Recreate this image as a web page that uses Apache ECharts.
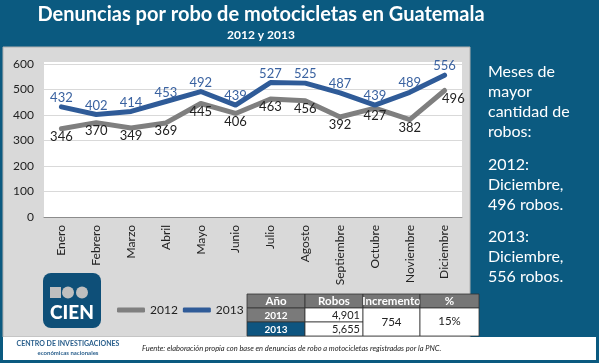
<!DOCTYPE html>
<html><head><meta charset="utf-8">
<script src="https://cdn.jsdelivr.net/npm/echarts@6/dist/echarts.min.js"></script>
<style>html,body{margin:0;padding:0;background:#0b5a80}#c{width:599px;height:363px}</style>
</head><body><div id="c"></div>
<script>
var months = ['Enero','Febrero','Marzo','Abril','Mayo','Junio','Julio','Agosto','Septiembre','Octubre','Noviembre','Diciembre'];
var values2012 = [346,370,349,369,445,406,463,456,392,427,382,496];
var values2013 = [432,402,414,453,492,439,527,525,487,439,489,556];
var yTicks = {min:0, max:600, interval:100};
var tableHeader = ['Año','Robos','Incremento','%'];
var tableYears = ['2012','2013'];
var tableRobos = ['4,901','5,655'];
var tableIncremento = '754';
var tablePct = '15%';
var noteLines = [['Meses de','mayor','cantidad de','robos:'],['2012:','Diciembre,','496 robos.'],['2013:','Diciembre,','556 robos.']];

var FONT = 'Lato';
var BLUE = '#0b5a80';
var chart = echarts.init(document.getElementById('c'));

var graphics = [];
graphics.push({type:'text', style:{x:261,y:15,text:'Denuncias por robo de motocicletas en Guatemala',fill:'#ffffff',font:'bold 20px '+FONT,textAlign:'center',textVerticalAlign:'middle'}});
graphics.push({type:'text', style:{x:261,y:35,text:'2012 y 2013',fill:'#ffffff',font:'bold 12px '+FONT,textAlign:'center',textVerticalAlign:'middle'}});
graphics.push({type:'rect', z:-10, shape:{x:3,y:47,width:467,height:290}, style:{fill:'#d9d9d9', stroke:'#b0b0b0', lineWidth:1}});
graphics.push({type:'rect', z:-9, shape:{x:44,y:62,width:418,height:155}, style:{fill:'#ffffff'}});
graphics.push({type:'rect', z:-10, shape:{x:3,y:337,width:593,height:23}, style:{fill:'#ffffff'}});
graphics.push({type:'text', style:{x:68,y:344,text:'CENTRO DE INVESTIGACIONES',fill:'#2a5f8c',font:'bold 7px '+FONT,textAlign:'center',textVerticalAlign:'middle'}});
graphics.push({type:'text', style:{x:68,y:353,text:'económicas nacionales',fill:'#2a5f8c',font:'bold 6px '+FONT,textAlign:'center',textVerticalAlign:'middle'}});
graphics.push({type:'text', style:{x:142,y:349,text:'Fuente: elaboración propia con base en denuncias de robo a motocicletas registradas por la PNC.',fill:'#222',font:'italic 7.5px '+FONT,textAlign:'left',textVerticalAlign:'middle'}});
graphics.push({type:'rect', shape:{x:43,y:273,width:58,height:55,r:8}, style:{fill:'#0e4f78'}});
graphics.push({type:'rect', shape:{x:50,y:287,width:11,height:11}, style:{fill:'#bfbfbf'}});
graphics.push({type:'circle', shape:{cx:68,cy:292.5,r:6}, style:{fill:'#bfbfbf'}});
graphics.push({type:'circle', shape:{cx:82,cy:292.5,r:6}, style:{fill:'#bfbfbf'}});
graphics.push({type:'text', style:{x:72,y:313,text:'CIEN',fill:'#ffffff',font:'900 19px '+FONT,textAlign:'center',textVerticalAlign:'middle'}});
var ny = [72,92,112,132,165,185,205,237,257,277];
var k=0;
noteLines.forEach(function(p){p.forEach(function(l){graphics.push({type:'text',style:{x:488,y:ny[k++],text:l,fill:'#ffffff',font:'16px '+FONT,textAlign:'left',textVerticalAlign:'middle'}});});});
var cx = [247,305,363,420,479];
var ry = [294,308,322,336];
function cell(x0,x1,y0,y1,fill){graphics.push({type:'rect',shape:{x:x0,y:y0,width:x1-x0,height:y1-y0},style:{fill:fill,stroke:'#333',lineWidth:0.8}});}
function txt(x,y,t,f,col,al){graphics.push({type:'text',style:{x:x,y:y,text:t,font:f,fill:col,textAlign:al||'center',textVerticalAlign:'middle'}});}
for (var i=0;i<4;i++){cell(cx[i],cx[i+1],ry[0],ry[1],'#767676'); txt((cx[i]+cx[i+1])/2,(ry[0]+ry[1])/2+0.5,tableHeader[i],'bold 11.5px '+FONT,'#ffffff');}
for (var j=0;j<2;j++){
  cell(cx[0],cx[1],ry[j+1],ry[j+2], j===0?'#7a7a7a':'#0e5580');
  txt((cx[0]+cx[1])/2,(ry[j+1]+ry[j+2])/2+0.5,tableYears[j],'bold 10px '+FONT,'#ffffff');
  cell(cx[1],cx[2],ry[j+1],ry[j+2],'#ffffff');
  txt(cx[2]-3,(ry[j+1]+ry[j+2])/2+0.5,tableRobos[j],'11px '+FONT,'#222','right');
}
cell(cx[2],cx[3],ry[1],ry[3],'#ffffff'); txt((cx[2]+cx[3])/2,(ry[1]+ry[3])/2,tableIncremento,'11.5px '+FONT,'#222');
cell(cx[3],cx[4],ry[1],ry[3],'#ffffff'); txt((cx[3]+cx[4])/2,(ry[1]+ry[3])/2-1,tablePct,'11.5px '+FONT,'#222');

var data2012 = values2012.map(function(v,i){
  if (i===11) return {value:v, label:{position:'right', offset:[-4,8]}};
  return {value:v};
});

chart.setOption({
  backgroundColor: BLUE,
  animation:false,
  legend:{left:112, top:299, itemWidth:28, itemHeight:5, itemGap:5, icon:'roundRect',
    textStyle:{fontFamily:FONT, fontSize:12, color:'#222'},
    data:['2012','2013']},
  graphic: graphics,
  grid:{left:44, right:137, top:64, bottom:146},
  xAxis:{type:'category', data:months, boundaryGap:true,
    axisLine:{lineStyle:{color:'#8c8c8c', width:1}}, axisTick:{show:false},
    axisLabel:{rotate:90, interval:0, fontFamily:FONT, fontSize:12, color:'#222', margin:8}},
  yAxis:{type:'value', min:yTicks.min, max:yTicks.max, interval:yTicks.interval,
    axisLine:{show:false}, axisTick:{show:false},
    splitLine:{lineStyle:{color:'#d9d9d9', width:1}},
    axisLabel:{fontFamily:FONT, fontSize:12, color:'#222', margin:10}},
  series:[
    {name:'2012', type:'line', data:data2012, symbol:'circle', symbolSize:1, showSymbol:true, itemStyle:{color:'#7f7f7f'},
      lineStyle:{width:5, color:'#7f7f7f', cap:'round', join:'round'},
      label:{show:true, position:'bottom', distance:1, fontFamily:FONT, fontSize:13, color:'#222'}},
    {name:'2013', type:'line', data:values2013, symbol:'circle', symbolSize:1, showSymbol:true, itemStyle:{color:'#2f5b98'},
      lineStyle:{width:5, color:'#2f5b98', cap:'round', join:'round'},
      label:{show:true, position:'top', distance:2, fontFamily:FONT, fontSize:13, color:'#3a62a0'}}
  ]
});
</script></body></html>
